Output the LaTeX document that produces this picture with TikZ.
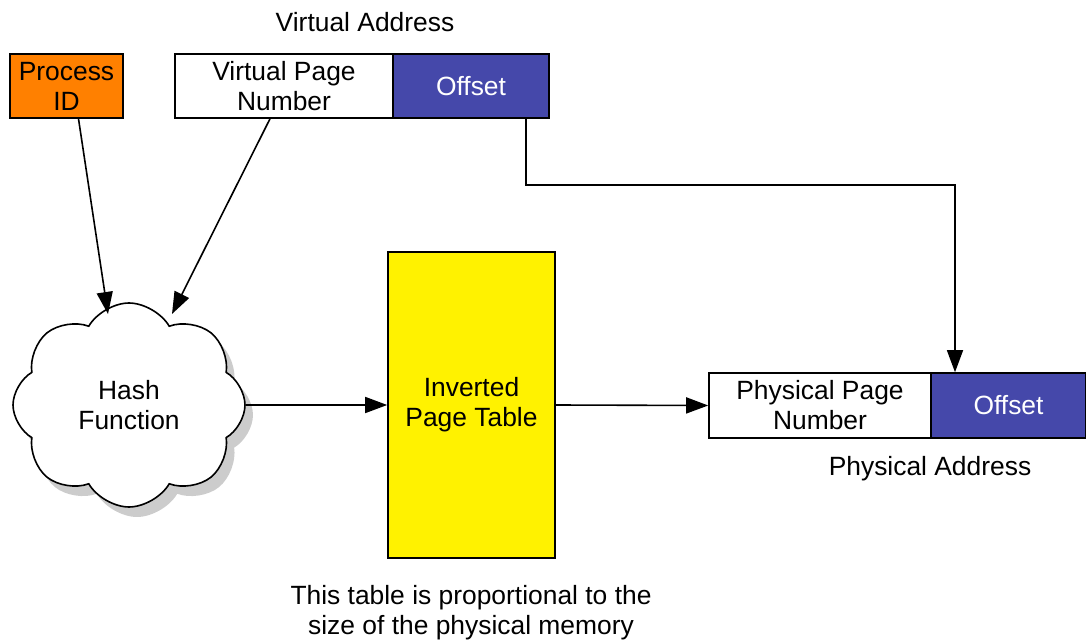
\documentclass[tikz,border=0pt]{standalone}
\usepackage{fontspec}
\setmainfont{Liberation Sans}
\usetikzlibrary{shapes.symbols,shadows,arrows.meta}
\definecolor{pidorange}{RGB}{255,128,0}
\definecolor{offblue}{RGB}{69,72,170}
\begin{document}
\begin{tikzpicture}[
            x=0.5pt, y=-0.5pt,
            every node/.style={font=\fontsize{13.2}{15}\selectfont, align=center},
            field/.style={draw, line width=0.8pt, inner sep=0pt, minimum height=32pt},
            link/.style={line width=0.8pt, -{Triangle[length=11pt, width=8pt]}}
            ]
            \useasboundingbox (0,0) rectangle (1086,641);

            \node at (365,22) {Virtual Address};
            \node[field, fill=pidorange, minimum width=56.5pt] (pid) at (66.5,86) {Process\\ID};
            \node[field, fill=white, minimum width=109pt] (vpn) at (284,86) {Virtual Page\\Number};
            \node[field, fill=offblue, text=white, minimum width=78pt] (voff) at (471,86) {Offset};

            \node[draw, line width=0.8pt, fill=white, cloud, cloud puffs=8, cloud puff arc=120,
                  cloud ignores aspect, minimum width=116pt, minimum height=102pt,
                  drop shadow={shadow xshift=4pt, shadow yshift=-5pt, opacity=0.4}] (hash) at (129,405) {Hash\\Function};

            \node[field, fill=yellow, minimum width=83.5pt, minimum height=153pt] (ipt) at (471.5,405) {Inverted\\Page Table};
            \node at (471,613) {This table is proportional to the\\size of the physical memory};

            \node[field, fill=white, minimum width=111pt, minimum height=32.5pt] (ppn) at (820,405.5) {Physical Page\\Number};
            \node[field, fill=offblue, text=white, minimum width=77.5pt, minimum height=32.5pt] (poff) at (1008.5,405.5) {Offset};
            \node at (930,469) {Physical Address};

            \coordinate (hin1) at (108,314);
            \coordinate (hin2) at (172,314);
            \coordinate (c1) at (526,185);
            \coordinate (c2) at (955,185);

            \draw[link] ([xshift=6pt]pid.south) -- (hin1);
            \draw[link] ([xshift=-7pt]vpn.south) -- (hin2);
            \draw[link] (hash.east |- ipt.west) -- (ipt.west);
            \draw[link] (ipt.east) -- (ppn.west);
            \draw[link] (voff.south -| c1) -- (c1) -- (c2) -- (poff.north -| c2);

            \end{tikzpicture}
\end{document}
